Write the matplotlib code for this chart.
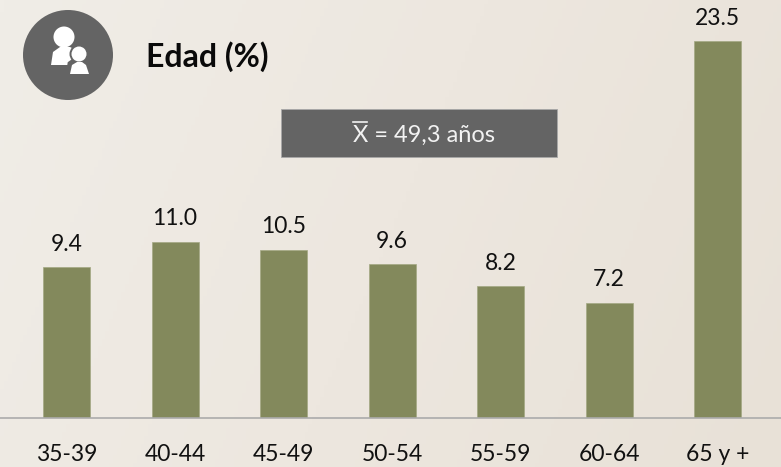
import numpy as np
import matplotlib
matplotlib.use('Agg')
import matplotlib.pyplot as plt
from matplotlib.patches import Circle, Rectangle, Polygon
from matplotlib.colors import LinearSegmentedColormap

plt.rcParams['font.family'] = ['Lato', 'DejaVu Sans']

categories = ['35-39', '40-44', '45-49', '50-54', '55-59', '60-64', '65 y +']
values = [9.4, 11.0, 10.5, 9.6, 8.2, 7.2, 23.5]

W, H = 781, 467
BAR_COLOR = '#83895c'
GREY = '#646464'

fig = plt.figure(figsize=(W / 100, H / 100), dpi=100)

# Background gradient and decorations, in pixel coordinates.
bg_ax = fig.add_axes([0, 0, 1, 1], zorder=0)
bg_ax.set_xlim(0, W)
bg_ax.set_ylim(H, 0)
bg_ax.axis('off')
cmap = LinearSegmentedColormap.from_list('bg', ['#f0ede7', '#ede7df', '#e8e1d7'])
xx, yy = np.meshgrid(np.linspace(0, 1, 200), np.linspace(0, 1, 120))
bg_ax.imshow((xx * 0.8 + yy * 0.2), cmap=cmap, extent=(0, W, H, 0), aspect='auto', vmin=0, vmax=1)

# Chart.
ax = fig.add_axes([0, 49 / H, 1, 418 / H], zorder=1)
ax.patch.set_alpha(0)
x = np.arange(len(values))
ax.bar(x, values, width=47 / 108.5, color=BAR_COLOR, edgecolor='#a3a883', linewidth=0.5)
ax.set_xlim(-66.5 / 108.5, (W - 66.5) / 108.5)
ax.set_ylim(0, 418 / 16.04)
for s in ['top', 'right', 'left']:
    ax.spines[s].set_visible(False)
ax.spines['bottom'].set_color('#ababab')
ax.spines['bottom'].set_linewidth(1.2)
ax.yaxis.set_visible(False)
ax.set_xticks(x, categories, fontsize=16.5, color='#111111')
ax.tick_params(axis='x', length=0, pad=18.5)
for xi, v in zip(x, values):
    ax.annotate(f'{v:.1f}', (xi, v), xytext=(0, 23), textcoords='offset pixels',
                ha='center', va='center', fontsize=16.5, color='#111111', annotation_clip=False)

# Overlay: icon, title, mean box.
top = fig.add_axes([0, 0, 1, 1], zorder=2)
top.set_xlim(0, W)
top.set_ylim(H, 0)
top.axis('off')
top.patch.set_alpha(0)

top.add_patch(Circle((68, 55), 45, color=GREY, lw=0))
top.add_patch(Circle((64, 37), 10.5, color='white', lw=0))
top.add_patch(Polygon([(51, 65), (53, 52), (60, 47), (70, 47), (76, 50), (73, 65)], color='white', lw=0))
top.add_patch(Circle((79, 54), 9.5, color=GREY, lw=0))
top.add_patch(Polygon([(67, 76), (69, 63), (76, 58), (84, 58), (87, 63), (91, 76)], color=GREY, lw=2))
top.add_patch(Circle((79, 54), 7.5, color='white', lw=0))
top.add_patch(Polygon([(70, 74), (72, 65), (77, 62), (82, 62), (86, 65), (89, 74)], color='white', lw=0))

top.text(146, 57, 'Edad (%)', fontsize=23, fontweight='bold', color='#0a0a0a', ha='left', va='center')

top.add_patch(Rectangle((281, 109), 276, 48, facecolor=GREY, edgecolor='#a8a8a8', lw=0.6))
top.text(353, 135, 'X = 49,3 años', fontsize=17, color='#f2f2f2', ha='left', va='center')
top.plot([353, 367], [122, 122], color='#f2f2f2', lw=1.2)

fig.savefig('out.png', dpi=100)
